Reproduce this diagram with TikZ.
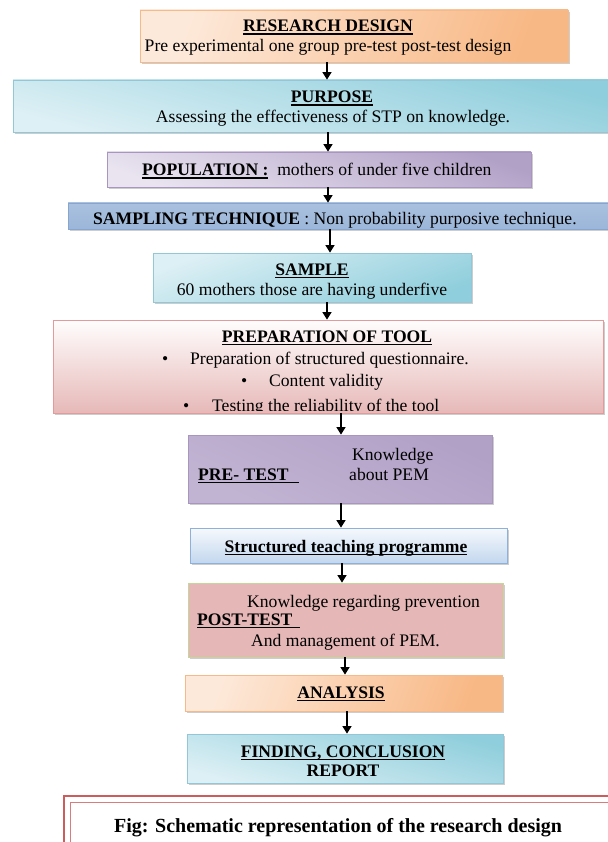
\documentclass[tikz,border=0pt]{standalone}
\usepackage{fontspec}
\setmainfont{Liberation Serif}
\usetikzlibrary{arrows.meta,shadows}

% palette
\definecolor{orD}{HTML}{F8B885}
\definecolor{orL}{HTML}{FDE9DA}
\definecolor{orB}{HTML}{F6B98A}
\definecolor{cyD}{HTML}{8FCEDC}
\definecolor{cyL}{HTML}{DDF0F5}
\definecolor{cyB}{HTML}{93C6D6}
\definecolor{puD}{HTML}{B2A1C7}
\definecolor{puL}{HTML}{E9E4F0}
\definecolor{puB}{HTML}{A896C0}
\definecolor{stD}{HTML}{9BB6D9}
\definecolor{stL}{HTML}{DEE7F3}
\definecolor{stB}{HTML}{86A6CF}
\definecolor{pkD}{HTML}{E6B9B8}
\definecolor{pkL}{HTML}{FFFDFD}
\definecolor{pkB}{HTML}{E39A9A}
\definecolor{bluD}{HTML}{C3D7EE}
\definecolor{bluL}{HTML}{F6F9FD}
\definecolor{bluB}{HTML}{8EB0D9}
\definecolor{postF}{HTML}{E5B7B6}
\definecolor{postB}{HTML}{C3D69B}
\definecolor{capR}{HTML}{CD5C5C}

\newcommand\bodyfont{\fontsize{17.6}{21}\selectfont}
% underline drawn as a rule a little below the baseline
\newcommand\ulbar[1]{\setbox0\hbox{#1}\rlap{\rule[-2.6pt]{\wd0}{1.1pt}}\box0}

\tikzset{
  box/.style={rectangle, inner sep=0pt, line width=0.8pt,
    drop shadow={shadow xshift=1.5pt, shadow yshift=-2pt, opacity=0.28, fill=black!70}},
  txt/.style={inner sep=0pt, anchor=base, font=\bodyfont},
  arr/.style={line width=1.3pt, -{Triangle[width=9pt,length=7.5pt]}},
}

\begin{document}
\begin{tikzpicture}[x=1pt,y=-1pt]
\useasboundingbox (0,0) rectangle (607,842);
\fill[white] (0,0) rectangle (607,842);

% boxes
\node[box, draw=orB, left color=orL, right color=orD, shading angle=70,
  minimum width=428, minimum height=52] (rd) at (354,36) {};
\node[box, draw=cyB, top color=cyD, bottom color=cyL, shading angle=-15,
  minimum width=599, minimum height=52] (pur) at (312.5,106) {};
\node[box, draw=puB, top color=puD, bottom color=puL, shading angle=-20,
  minimum width=424, minimum height=35] (pop) at (319,169.5) {};
\node[box, draw=stB, top color=stD!85, middle color=stL, bottom color=stD,
  minimum width=544, minimum height=26] (st) at (340,216) {};
\node[box, draw=cyB, top color=cyL, bottom color=cyD, shading angle=20,
  minimum width=318, minimum height=49] (sam) at (312,277.5) {};
\node[box, draw=pkB, top color=pkL, bottom color=pkD,
  minimum width=550, minimum height=93] (prep) at (328,366.5) {};
\node[box, draw=puB, top color=puD, middle color=puL, bottom color=puD!80, shading angle=-25,
  minimum width=304, minimum height=68] (pre) at (340,469) {};
\node[box, draw=bluB, top color=bluL, bottom color=bluD,
  minimum width=317, minimum height=35] (stp) at (348.5,545.5) {};
\node[box, draw=postB, fill=postF,
  minimum width=315, minimum height=74] (post) at (345.5,620) {};
\node[box, draw=orB, left color=orL, right color=orD, shading angle=70,
  minimum width=317, minimum height=36] (ana) at (343.5,693) {};
\node[box, draw=cyB, top color=cyD, bottom color=cyL, shading angle=-15,
  minimum width=316, minimum height=49] (fin) at (345,758.5) {};

% caption frame (double red rule)
\node[rectangle, draw=capR, line width=2pt, inner sep=0pt,
  minimum width=560, minimum height=60] (capO) at (344,826) {};
\node[rectangle, draw=capR!80, line width=0.9pt, inner sep=0pt,
  minimum width=548, minimum height=48] (capI) at (344,826) {};

% texts
\node[txt] (rdT) at (328,32) {\ulbar{\textbf{RESEARCH DESIGN}}};
\node[txt] (rdS) at (328,52) {Pre experimental one group pre-test post-test design};

\node[txt] (purT) at (332,103) {\ulbar{\textbf{PURPOSE}}};
\node[txt] (purS) at (333,123) {Assessing the effectiveness of STP on knowledge.};

\node[txt, anchor=base west] (popT) at (142,176)
  {\ulbar{\textbf{POPULATION :}}\ \ mothers of under five children};

\begin{scope}
  \clip (68,203) rectangle (612,228.5);
  \node[txt, anchor=base west] (stT) at (93,225)
    {\textbf{SAMPLING TECHNIQUE} : Non probability purposive technique.};
\end{scope}

\node[txt] (samT) at (312,275) {\ulbar{\textbf{SAMPLE}}};
\node[txt] (samS) at (312,295) {60 mothers those are having underfive};

\node[txt] (prepT) at (327,342) {\ulbar{\textbf{PREPARATION OF TOOL}}};
\node[txt, anchor=base west] (prepB1) at (162,364) {\textbullet};
\node[txt, anchor=base west] (prepL1) at (190,364) {Preparation of structured questionnaire.};
\node[txt, anchor=base west] (prepB2) at (241,386) {\textbullet};
\node[txt, anchor=base west] (prepL2) at (269,386) {Content validity};
\begin{scope}
  \clip (53,395) rectangle (603,410.5);
  \node[txt, anchor=base west] (prepB3) at (183,411) {\textbullet};
  \node[txt, anchor=base west] (prepL3) at (212,411) {Testing the reliability of the tool};
\end{scope}

\node[txt, anchor=base west] (preT) at (198,480) {\ulbar{\textbf{PRE- TEST}\hspace{10pt}}};
\node[txt, anchor=base west] (preK) at (352,460) {Knowledge};
\node[txt, anchor=base west] (preA) at (349,480) {about PEM};

\node[txt] (stpT) at (346,552) {\ulbar{\textbf{Structured teaching programme}}};

\node[txt, anchor=base west] (postK) at (247,607) {Knowledge regarding prevention};
\node[txt, anchor=base west] (postT) at (197,625) {\ulbar{\textbf{POST-TEST}\hspace{8pt}}};
\node[txt, anchor=base west] (postA) at (251,646) {And management of PEM.};

\node[txt] (anaT) at (341,698) {\ulbar{\textbf{ANALYSIS}}};

\node[txt] (finT) at (343,757) {\ulbar{\textbf{FINDING, CONCLUSION}}};
\node[txt] (finR) at (343,776) {\textbf{REPORT}};

\node[inner sep=0pt, anchor=base, font=\fontsize{20}{24}\selectfont\bfseries] (capT) at (338,832)
  {Fig: Schematic representation of the research design};

% arrow columns
\coordinate (c1) at (327,0);
\coordinate (c2) at (328,0);
\coordinate (c3) at (328,0);
\coordinate (c4) at (330,0);
\coordinate (c5) at (327,0);
\coordinate (c6) at (341,0);
\coordinate (c7) at (341,0);
\coordinate (c8) at (342,0);
\coordinate (c9) at (345,0);
\coordinate (c10) at (347,0);

\draw[arr] (rd.south -| c1) -- (pur.north -| c1);
\draw[arr] (pur.south -| c2) -- (pop.north -| c2);
\draw[arr] (pop.south -| c3) -- (st.north -| c3);
\draw[arr] (st.south -| c4) -- (sam.north -| c4);
\draw[arr] (sam.south -| c5) -- (prep.north -| c5);
\draw[arr] (prep.south -| c6) -- (pre.north -| c6);
\draw[arr] (pre.south -| c7) -- (stp.north -| c7);
\draw[arr] (stp.south -| c8) -- (post.north -| c8);
\draw[arr] (post.south -| c9) -- (ana.north -| c9);
\draw[arr] (ana.south -| c10) -- (fin.north -| c10);
\end{tikzpicture}
\end{document}
